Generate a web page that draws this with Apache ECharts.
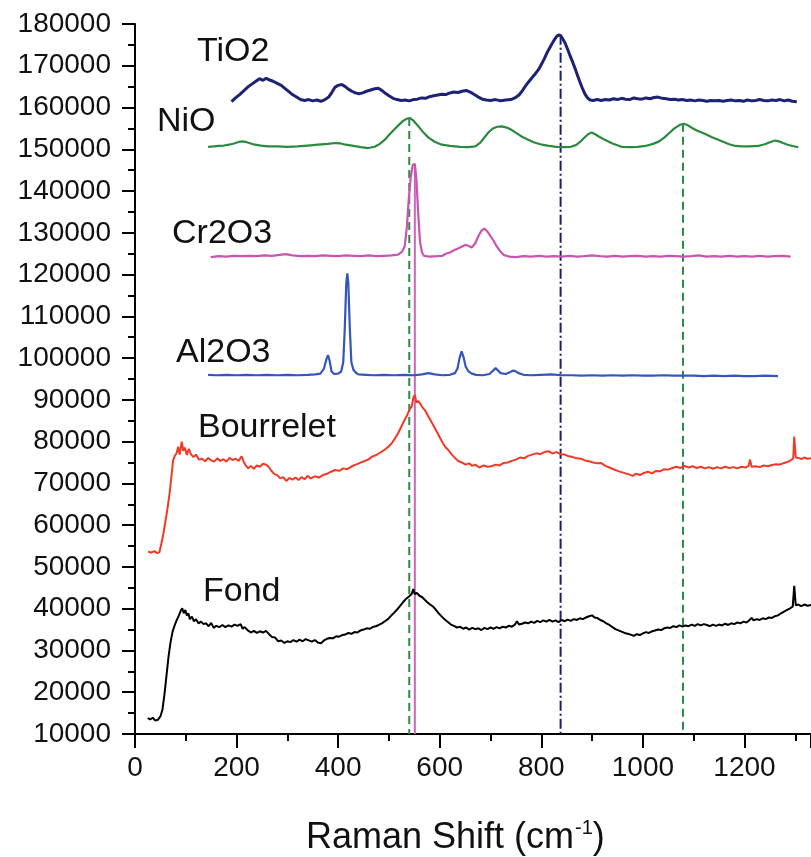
<!DOCTYPE html>
<html>
<head>
<meta charset="utf-8">
<script src="https://cdn.jsdelivr.net/npm/echarts@6/dist/echarts.min.js"></script>
<style>
html,body{margin:0;padding:0;background:#fff;}
#chart{width:811px;height:857px;}
</style>
</head>
<body>
<div id="chart"></div>
<script>
// ---- data (Raman shift cm-1, intensity) ----
const tio2 = [[190,161400],[198,162300],[206,163100],[214,164000],[222,164900],[230,165600],[238,166300],[245,166900],[252,166500],[258,167000],[265,166600],[272,166300],[280,165800],[288,165300],[295,164600],[303,163800],[310,163100],[318,162500],[326,161900],[334,161700],[342,161900],[350,161600],[358,161800],[366,161500],[374,161900],[382,162600],[388,163700],[394,164900],[400,165300],[407,165500],[414,165000],[420,164400],[427,163900],[434,163500],[441,163300],[448,163500],[456,163900],[464,164200],[472,164500],[479,164600],[486,164100],[493,163400],[500,162800],[508,162200],[516,161900],[524,161700],[532,161800],[540,161600],[548,161900],[556,162000],[564,162300],[572,162200],[580,162600],[588,162800],[596,163000],[604,163200],[612,163100],[620,163500],[628,163700],[636,163600],[644,163900],[652,164100],[660,163700],[668,163100],[676,162500],[684,162000],[692,161800],[700,161700],[710,161900],[720,161600],[730,161800],[740,161900],[748,162300],[756,163000],[762,163900],[768,165000],[774,166000],[780,166900],[787,167900],[794,169000],[800,170300],[806,171700],[812,173300],[818,174600],[824,175900],[830,177000],[834,177400],[838,177200],[842,176500],[847,175400],[852,173900],[857,172300],[862,170800],[866,169500],[871,167800],[876,166100],[881,164600],[886,163200],[891,162300],[896,161800],[902,161700],[910,161900],[918,161700],[926,161900],[934,161800],[942,162100],[950,161900],[958,162200],[966,162000],[974,161900],[982,162300],[990,162100],[998,162000],[1006,162300],[1014,162100],[1022,162400],[1030,162500],[1038,162200],[1046,162100],[1054,161900],[1062,162000],[1070,161800],[1078,161900],[1086,161700],[1094,161800],[1102,161600],[1110,161800],[1118,161700],[1126,161500],[1134,161700],[1142,161600],[1150,161700],[1158,161500],[1166,161700],[1174,161800],[1182,161600],[1190,161700],[1198,161500],[1206,161800],[1214,161600],[1222,161700],[1230,161900],[1238,161700],[1246,161600],[1254,161800],[1262,161700],[1270,161900],[1278,161600],[1286,161800],[1294,161500],[1303,161400]];

const nio = [[144,150600],[155,150700],[165,150800],[175,150900],[185,151100],[195,151400],[205,151800],[212,151900],[220,151700],[228,151400],[236,151100],[248,150900],[262,150700],[280,150700],[300,150600],[320,150700],[340,150900],[360,151100],[380,151300],[394,151500],[405,151400],[415,151100],[430,150800],[445,150500],[459,150300],[472,150600],[482,151300],[492,152300],[500,153400],[510,154700],[520,155900],[528,156800],[535,157300],[541,157500],[547,157000],[553,156200],[560,155200],[568,154000],[578,152800],[590,151800],[604,151100],[620,150800],[640,150600],[656,150500],[670,150700],[680,151600],[689,153000],[697,154200],[705,155000],[713,155400],[722,155500],[732,155200],[742,154600],[752,153800],[762,153000],[772,152400],[785,151700],[801,151100],[815,150800],[830,150600],[845,150500],[858,150600],[868,151000],[876,151700],[884,152700],[892,153600],[899,154000],[906,153600],[914,153000],[926,152200],[940,151400],[958,150600],[975,150500],[990,150600],[1005,150800],[1020,151300],[1032,151900],[1042,152800],[1052,153900],[1062,155000],[1072,155800],[1080,156100],[1088,155800],[1097,155100],[1106,154500],[1116,154000],[1126,153500],[1136,152900],[1146,152400],[1158,151800],[1170,151200],[1182,150800],[1195,150700],[1210,150700],[1227,150800],[1240,151200],[1250,151700],[1260,152100],[1268,151900],[1276,151500],[1285,151100],[1295,150800],[1306,150500]];

const cr2o3 = [[149,124200],[165,124400],[180,124300],[195,124500],[210,124400],[225,124500],[240,124400],[255,124600],[270,124500],[285,124700],[297,124900],[310,124600],[325,124400],[340,124500],[355,124400],[370,124600],[385,124500],[400,124400],[415,124600],[430,124500],[445,124400],[460,124600],[475,124400],[490,124500],[505,124600],[518,124800],[526,125500],[531,126800],[535,131000],[539,138000],[543,143500],[547,146300],[551,146500],[554,143000],[557,136000],[561,128000],[565,125300],[569,124500],[580,124300],[595,124400],[605,124500],[612,125000],[620,125300],[629,125900],[637,126300],[645,126800],[650,127100],[656,126900],[663,126500],[670,127500],[676,129200],[682,130500],[688,131000],[694,130300],[700,129200],[706,128100],[712,126800],[719,125600],[726,124700],[737,124300],[750,124200],[765,124400],[780,124300],[795,124500],[810,124300],[825,124400],[840,124300],[855,124500],[870,124300],[885,124400],[900,124600],[915,124400],[930,124300],[945,124500],[960,124300],[975,124400],[990,124500],[1005,124300],[1020,124400],[1035,124300],[1050,124500],[1065,124400],[1080,124300],[1095,124400],[1110,124600],[1125,124300],[1140,124400],[1155,124300],[1170,124500],[1185,124300],[1200,124400],[1215,124300],[1230,124500],[1245,124300],[1260,124400],[1275,124500],[1291,124300]];

const al2o3 = [[144,96000],[160,95900],[180,96000],[200,95900],[220,96000],[240,95900],[260,96000],[280,95900],[300,96000],[320,95900],[340,96000],[355,96100],[365,96300],[372,97500],[377,99800],[380,100700],[383,99500],[387,96800],[392,96200],[400,96300],[406,96800],[410,99000],[413,107000],[416,118000],[418,120300],[420,118000],[423,107000],[426,99000],[430,97200],[435,96500],[440,96100],[455,96000],[470,95900],[490,96000],[510,95900],[530,96000],[550,95900],[565,96100],[578,96400],[590,96100],[605,95900],[620,96000],[630,96400],[635,97500],[639,100000],[643,101600],[647,100200],[651,98000],[656,96900],[663,96300],[672,96000],[685,95900],[698,96200],[705,97000],[710,97600],[715,97000],[720,96400],[730,96200],[738,96600],[744,97000],[749,96900],[755,96400],[765,96000],[780,95900],[800,96000],[820,96100],[840,95900],[860,95900],[880,95800],[900,95900],[920,95800],[940,95900],[960,95800],[980,95900],[1000,95800],[1020,95800],[1040,95900],[1060,95800],[1080,95800],[1100,95800],[1120,95700],[1140,95800],[1160,95700],[1180,95800],[1200,95700],[1220,95700],[1240,95800],[1266,95700]];

const bourrelet = [[26,53700],[32,53400],[38,53800],[44,53300],[48,53500],[52,55600],[56,58000],[60,61000],[64,64000],[68,67500],[72,72000],[75,75500],[78,76500],[82,77300],[85,78800],[88,76900],[92,80000],[95,77800],[98,78600],[102,76800],[106,78300],[110,77000],[115,76300],[120,76900],[126,75700],[132,75900],[138,75300],[144,76100],[150,75500],[156,75200],[162,76000],[168,75400],[174,75800],[180,75200],[186,76100],[192,75600],[198,75900],[204,75400],[210,76500],[214,75200],[218,74300],[223,73600],[228,74200],[234,73500],[240,74300],[246,74000],[252,74700],[258,74500],[263,74000],[268,73100],[274,72300],[280,72000],[286,71200],[292,71500],[298,70600],[304,71300],[310,70900],[316,71400],[322,70800],[328,71500],[334,71000],[340,71800],[346,71200],[354,71700],[362,71400],[370,72000],[378,72300],[386,72800],[394,73200],[402,73000],[410,73600],[418,73400],[427,74100],[435,74500],[443,74900],[451,75300],[459,75700],[467,76400],[475,76800],[483,77400],[492,78100],[500,78900],[506,79700],[512,80800],[518,82000],[524,83500],[530,85000],[536,86400],[541,87800],[545,88500],[548,90500],[551,91200],[554,89400],[558,89700],[562,89000],[566,88200],[571,87500],[576,86400],[581,85300],[586,84200],[591,83100],[596,82000],[601,80800],[606,79700],[611,78700],[617,78000],[623,77000],[630,76100],[637,75300],[644,75000],[651,74500],[658,74800],[664,74200],[670,74500],[678,73800],[686,74300],[694,74000],[702,74100],[710,74500],[718,74300],[726,74900],[734,75000],[742,75400],[750,75700],[758,76200],[766,76000],[774,76600],[782,76900],[790,77200],[798,77000],[806,77500],[814,77700],[822,77200],[830,77500],[838,77000],[846,76900],[854,76500],[862,76300],[870,76000],[878,75900],[886,75500],[894,75300],[902,75000],[910,74800],[918,74900],[926,74200],[934,73800],[942,73400],[950,73000],[958,72700],[966,72400],[974,72100],[980,71800],[986,72300],[994,72000],[1002,72500],[1010,72800],[1018,72400],[1026,73000],[1034,72900],[1042,73400],[1050,73300],[1058,73700],[1066,74000],[1074,73700],[1082,74200],[1090,73800],[1098,74100],[1106,73700],[1114,74000],[1122,73600],[1130,73900],[1138,73500],[1146,73900],[1154,73600],[1162,74000],[1170,73700],[1178,73900],[1186,73600],[1194,74000],[1202,73800],[1208,74200],[1211,75700],[1214,74000],[1222,74100],[1230,73900],[1238,74300],[1246,74100],[1254,74400],[1262,74600],[1270,74500],[1278,74900],[1286,75200],[1292,75600],[1296,76000],[1298,81200],[1301,76200],[1306,76100],[1312,75800],[1318,76200],[1324,75900],[1331,76000]];

const fond = [[25,13800],[30,13500],[35,13900],[40,13200],[45,13400],[50,14200],[54,15800],[58,19500],[62,24000],[66,28500],[70,32000],[74,34500],[78,36000],[82,37200],[86,38300],[90,39500],[93,40100],[96,38900],[99,39700],[102,38400],[105,38900],[108,37500],[112,38100],[116,37000],[120,37500],[125,36500],[130,36900],[135,36300],[140,36500],[145,35800],[150,36600],[155,35400],[160,35900],[166,35600],[172,36100],[178,35600],[184,36000],[190,35700],[196,36200],[202,35900],[208,36300],[212,35200],[216,35600],[222,34800],[228,34300],[234,34700],[240,34200],[246,34600],[252,34300],[258,34700],[264,33900],[270,33200],[276,33100],[282,32200],[288,32400],[294,31800],[300,32200],[306,32000],[312,32500],[318,32100],[324,32600],[330,32200],[336,32700],[342,32400],[348,32100],[354,32500],[360,31900],[366,31700],[372,32400],[378,32800],[384,33000],[390,32900],[396,33400],[402,33300],[408,33700],[414,33800],[420,34200],[426,34000],[432,34400],[438,34300],[444,34800],[450,35000],[456,35300],[462,35200],[468,35600],[474,35800],[480,36100],[486,36500],[492,37000],[498,37500],[504,38300],[510,39000],[516,39800],[522,40700],[528,41600],[534,42400],[540,43000],[545,43600],[548,44700],[551,43500],[555,43800],[560,43100],[565,42800],[570,42200],[575,41600],[580,41100],[586,40600],[592,39800],[598,38900],[604,38100],[610,37400],[616,36800],[622,36200],[628,35900],[634,35500],[640,35700],[646,35200],[652,35500],[658,35000],[664,35400],[670,35100],[676,35300],[682,34900],[688,35400],[694,35100],[700,35500],[706,35200],[712,35600],[718,35300],[724,35700],[730,35500],[736,35900],[742,35700],[748,36200],[752,37000],[756,36200],[762,36400],[768,36700],[774,36500],[780,36900],[786,36600],[792,37100],[798,36800],[804,37200],[810,36900],[816,37300],[822,36900],[828,37200],[834,36800],[840,37300],[846,37000],[852,37400],[858,37100],[864,37500],[870,37300],[876,37700],[882,37500],[888,37900],[894,38200],[900,38400],[905,37900],[910,37800],[916,37300],[922,37000],[928,36500],[934,36100],[940,35600],[946,35100],[952,34800],[958,34500],[964,34200],[970,34000],[976,33800],[982,33500],[988,33900],[994,33700],[1000,34100],[1006,34400],[1012,34200],[1018,34600],[1024,34800],[1030,35000],[1036,34900],[1042,35300],[1048,35500],[1054,35400],[1060,35800],[1066,35600],[1072,36000],[1078,35700],[1084,36000],[1090,35800],[1096,36200],[1102,35900],[1108,36300],[1114,36000],[1120,36300],[1126,36100],[1132,35800],[1138,36200],[1144,35900],[1150,36200],[1156,36000],[1162,36400],[1168,36100],[1174,36500],[1180,36300],[1186,36700],[1192,36500],[1198,36900],[1204,36700],[1210,37300],[1214,37800],[1218,37200],[1224,37500],[1230,37300],[1236,37700],[1242,37500],[1248,37900],[1254,37800],[1260,38200],[1266,38400],[1272,38900],[1278,39300],[1284,39700],[1290,40100],[1295,40500],[1298,45500],[1301,40800],[1306,41000],[1312,40600],[1318,41000],[1324,40700],[1332,40900]];

// reference lines: x position, top value, bottom value
const refGreenA = [[540,157500],[540,10000]];
const refPink   = [[551,146300],[551,10000]];
const refNavy   = [[838,177400],[838,10000]];
const refGreenB = [[1079,156100],[1079,10000]];

const seriesNames = ['TiO2','NiO','Cr2O3','Al2O3','Bourrelet','Fond'];
const xTicks = {min:0, max:1331, interval:200};
const yTicks = {min:10000, max:180000, interval:10000};

// ---- chart ----
const FONT = 'Liberation Sans, Arial, sans-serif';
const chart = echarts.init(document.getElementById('chart'), null, {renderer:'canvas'});

function spec(name, data, color, width, z) {
  return {name, type:'line', data, showSymbol:false, symbol:'none', animation:false,
    lineStyle:{color, width}, z: z||3, silent:true};
}
function ref(data, color, type, width) {
  return {type:'line', data, showSymbol:false, symbol:'none', animation:false,
    lineStyle:{color, width, type}, z:2, silent:true};
}

const labelPos = [[197,52],[157,122],[172,234],[176,353],[198,428],[203,592]];

chart.setOption({
  animation:false,
  backgroundColor:'#fff',
  grid:{left:135, right:0, top:24, bottom:123, containLabel:false},
  xAxis:{type:'value', min:xTicks.min, max:xTicks.max, interval:xTicks.interval,
    axisLine:{show:true, onZero:false, lineStyle:{color:'#000', width:2}},
    axisTick:{show:true, inside:false, length:14, lineStyle:{color:'#000', width:2}},
    minorTick:{show:true, splitNumber:2, length:7, lineStyle:{color:'#000', width:2}},
    splitLine:{show:false},
    axisLabel:{fontSize:28, color:'#111', fontFamily:FONT, margin:20, showMaxLabel:false,
      formatter:(v)=>String(v)}
  },
  yAxis:{type:'value', min:yTicks.min, max:yTicks.max, interval:yTicks.interval,
    axisLine:{show:true, onZero:false, lineStyle:{color:'#000', width:2}},
    axisTick:{show:true, inside:false, length:13, lineStyle:{color:'#000', width:2}},
    minorTick:{show:true, splitNumber:2, length:7, lineStyle:{color:'#000', width:2}},
    splitLine:{show:false},
    axisLabel:{fontSize:28, color:'#111', fontFamily:FONT, margin:24,
      formatter:(v)=>String(v)}
  },
  graphic: seriesNames.map((n,i)=>({type:'text', x:labelPos[i][0], y:labelPos[i][1], silent:true,
    style:{text:n, fontSize:34, fontFamily:FONT, fill:'#111', verticalAlign:'middle'}}))
    .concat([{type:'text', x:306, y:818, silent:true,
      style:{text:'{a|Raman Shift (cm}{b|-1}{a|)}', verticalAlign:'top', fill:'#111',
        rich:{a:{fontSize:36, fontFamily:FONT, fill:'#111', lineHeight:40},
              b:{fontSize:20, fontFamily:FONT, fill:'#111', verticalAlign:'top', lineHeight:40, padding:[0,0,0,1]}}}}]),
  series:[
    ref(refGreenA, '#2e8b45', [8,5], 2),
    ref(refPink, '#cc66bb', 'solid', 2),
    ref(refNavy, '#1b1f6e', [10,3,2,3], 2),
    ref(refGreenB, '#2e8b45', [8,5], 2),
    spec('TiO2', tio2, '#1e2275', 3),
    spec('NiO', nio, '#2b8a3e', 2.2),
    spec('Cr2O3', cr2o3, '#c855b0', 2.2),
    spec('Al2O3', al2o3, '#3456bd', 2.2),
    spec('Bourrelet', bourrelet, '#f03a28', 2),
    spec('Fond', fond, '#000000', 2)
  ]
});
</script>
</body>
</html>
